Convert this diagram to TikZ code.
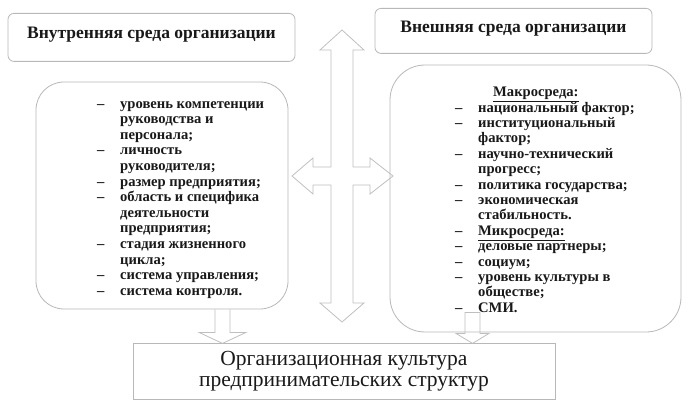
\documentclass[tikz,border=0pt]{standalone}
\usepackage{fontspec}
\setmainfont{Liberation Serif}
\usetikzlibrary{positioning}
\newcommand{\dashitem}{\makebox[23pt][l]{--}}
\newcommand{\contline}{\hspace*{23pt}}

\begin{document}
\begin{tikzpicture}[x=1pt,y=-1pt,
    titlebox/.style={draw=black!28, line width=0.8pt, rounded corners=6pt, fill=white, inner ysep=0pt, text=black!90, font=\bfseries\fontsize{17.5}{20}\selectfont},
    listbox/.style={draw=black!28, line width=0.8pt, fill=white},
    listtext/.style={align=left, inner sep=0pt, text=black!90, font=\bfseries\fontsize{14.6}{15.6}\selectfont},
    blockarrow/.style={draw=black!25, line width=0.8pt, line join=miter}]
    \useasboundingbox (0,0) rectangle (691,401);

    % headers
    \node[titlebox, minimum width=287pt, text height=25pt, text depth=23pt, anchor=north] (inner) at (151.5,13) {Внутренняя среда организации};
    \node[titlebox, minimum width=277pt, text height=24pt, text depth=21pt, anchor=north] (outer) at (513.5,8) {Внешняя среда организации};

    % factor boxes
    \node[listbox, rounded corners=28pt, minimum width=252pt, minimum height=227pt] (inbox) at (162,195.5) {};
    \node[listbox, rounded corners=35pt, minimum width=291pt, minimum height=267pt] (outbox) at (535.5,198.5) {};

    \node[listtext, anchor=north west] (inlist) at (97,101) {%
        \dashitem уровень компетенции\\
        \contline руководства и\\
        \contline персонала;\\
        \dashitem личность\\
        \contline руководителя;\\
        \dashitem размер предприятия;\\
        \dashitem область и специфика\\
        \contline деятельности\\
        \contline предприятия;\\
        \dashitem стадия жизненного\\
        \contline цикла;\\
        \dashitem система управления;\\
        \dashitem система контроля.};
    \node[listtext, anchor=north west, font=\bfseries\fontsize{14.6}{15.4}\selectfont] (outlist) at (455,87) {%
        \hspace*{38pt}\underline{Макросреда:}\\
        \dashitem национальный фактор;\\
        \dashitem институциональный\\
        \contline фактор;\\
        \dashitem научно-технический\\
        \contline прогресс;\\
        \dashitem политика государства;\\
        \dashitem экономическая\\
        \contline стабильность.\\
        \dashitem \underline{Микросреда:}\\
        \dashitem деловые партнеры;\\
        \dashitem социум;\\
        \dashitem уровень культуры в\\
        \contline обществе;\\
        \dashitem СМИ.};

    % result
    \node[draw=black!28, line width=0.8pt, fill=white, align=center, text=black!90, minimum width=422pt, minimum height=56pt, font=\fontsize{21.5}{21.5}\selectfont] (culture) at (344,371) {Организационная культура\\предпринимательских структур};

    % two-way cross between the environments
    \coordinate (hub) at (342,176);
    \draw[blockarrow, shift={(hub)}] (0,-146) -- (22,-126) -- (11,-126) -- (11,-9) -- (28,-9) -- (28,-18) -- (51,0)
        -- (28,18) -- (28,9) -- (11,9) -- (11,127) -- (22,127) -- (0,146) -- (-22,127) -- (-11,127) -- (-11,9)
        -- (-29,9) -- (-29,18) -- (-50,0) -- (-29,-18) -- (-29,-9) -- (-11,-9) -- (-11,-126) -- (-22,-126) -- cycle;

    % arrows into the result
    \draw[blockarrow] (inbox.south) ++(53,0) -- ++(0,23) -- ++(-16,0) -- ++(23.5,11) -- ++(23.5,-11) -- ++(-16,0) -- ++(0,-23);
    \draw[blockarrow] (outbox.south) ++(-70.5,-20) -- ++(0,21) -- ++(-9,0) -- ++(16.5,10) -- ++(16.5,-10) -- ++(-9,0) -- ++(0,-21) -- cycle;
\end{tikzpicture}
\end{document}
